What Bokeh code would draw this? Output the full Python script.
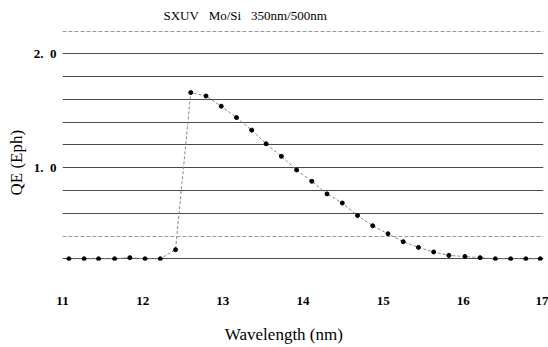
from bokeh.plotting import figure
from bokeh.models import FixedTicker, Grid, Range1d, Title
from bokeh.embed import file_html
from bokeh.resources import INLINE

# ---- data ----
wavelength = [11.08, 11.27, 11.45, 11.65, 11.84, 12.03, 12.22, 12.41, 12.60, 12.79,
              12.98, 13.17, 13.36, 13.54, 13.73, 13.92, 14.11, 14.30, 14.49, 14.68,
              14.87, 15.06, 15.25, 15.44, 15.63, 15.82, 16.02, 16.21, 16.40, 16.59,
              16.78, 16.96]
qe = [0.20, 0.20, 0.20, 0.20, 0.21, 0.20, 0.20, 0.28, 1.66, 1.63,
      1.54, 1.44, 1.33, 1.21, 1.10, 0.98, 0.88, 0.77, 0.69, 0.58,
      0.49, 0.42, 0.35, 0.30, 0.26, 0.23, 0.22, 0.21, 0.20, 0.20,
      0.20, 0.20]

x_ticks = [11, 12, 13, 14, 15, 16, 17]
y_ticks = [1.0, 2.0]
y_tick_labels = {1.0: "1.\u00a0\u00a00", 2.0: "2.\u00a0\u00a00"}
solid_grid = [0.2, 0.6, 0.8, 1.0, 1.2, 1.4, 1.6, 1.8, 2.0]
dashed_grid = [0.4, 2.2]

title_text = "SXUV\u00a0\u00a0\u00a0Mo/Si\u00a0\u00a0\u00a0350nm/500nm"
ylabel_text = "QE (Eph)"
# trailing no-break spaces shift the centred axis label to the left, as in the reference
xlabel_text = "Wavelength (nm)" + "\u00a0" * 9

SERIF = "Liberation Serif"

p = figure(width=548, height=347, output_backend="svg", toolbar_location=None,
           x_range=Range1d(11, 17), y_range=Range1d(0.185, 2.205),
           min_border_left=62, min_border_right=5, min_border_top=30,
           min_border_bottom=87)
p.outline_line_color = None
p.background_fill_color = "white"
p.border_fill_color = "white"

# title (top)
p.title.text = title_text
p.title.text_font = SERIF
p.title.text_font_size = "13px"
p.title.text_font_style = "normal"
p.title.text_color = "black"
p.title.align = "left"
p.title.vertical_align = "top"
p.title.offset = 101
p.title.standoff = 12

# grids
p.xgrid.visible = False
p.ygrid.ticker = FixedTicker(ticks=solid_grid)
p.ygrid.grid_line_color = "#4a4a4a"
p.ygrid.grid_line_width = 1
dgrid = Grid(dimension=1, ticker=FixedTicker(ticks=dashed_grid),
             grid_line_color="#999999", grid_line_width=1, grid_line_dash="4 2")
p.add_layout(dgrid)

# axes
p.xaxis.ticker = FixedTicker(ticks=x_ticks)
p.xaxis.axis_line_color = None
p.xaxis.major_tick_line_color = None
p.xaxis.minor_tick_line_color = None
p.xaxis.major_label_standoff = 30
p.xaxis.major_label_text_font = SERIF
p.xaxis.major_label_text_font_size = "13px"
p.xaxis.major_label_text_font_style = "bold"
p.xaxis.major_label_text_color = "black"
p.xaxis.axis_label = xlabel_text
p.xaxis.axis_label_standoff = 17
p.xaxis.axis_label_text_font = SERIF
p.xaxis.axis_label_text_font_size = "17px"
p.xaxis.axis_label_text_font_style = "normal"
p.xaxis.axis_label_text_color = "black"

p.yaxis.ticker = FixedTicker(ticks=y_ticks)
p.yaxis.major_label_overrides = y_tick_labels
p.yaxis.axis_line_color = None
p.yaxis.major_tick_line_color = None
p.yaxis.minor_tick_line_color = None
p.yaxis.major_label_standoff = 0
p.yaxis.major_label_text_font = SERIF
p.yaxis.major_label_text_font_size = "13px"
p.yaxis.major_label_text_font_style = "bold"
p.yaxis.major_label_text_color = "black"

# y axis title
p.add_layout(Title(text=ylabel_text, text_font=SERIF, text_font_size="17px",
                   text_font_style="normal", text_color="black", align="left",
                   offset=65, standoff=9), "left")

# series
p.line(wavelength, qe, line_color="#888888", line_width=1, line_dash="3 2")
p.scatter(wavelength, qe, size=4, color="black")

open("out.html", "w").write(file_html(p, INLINE))
